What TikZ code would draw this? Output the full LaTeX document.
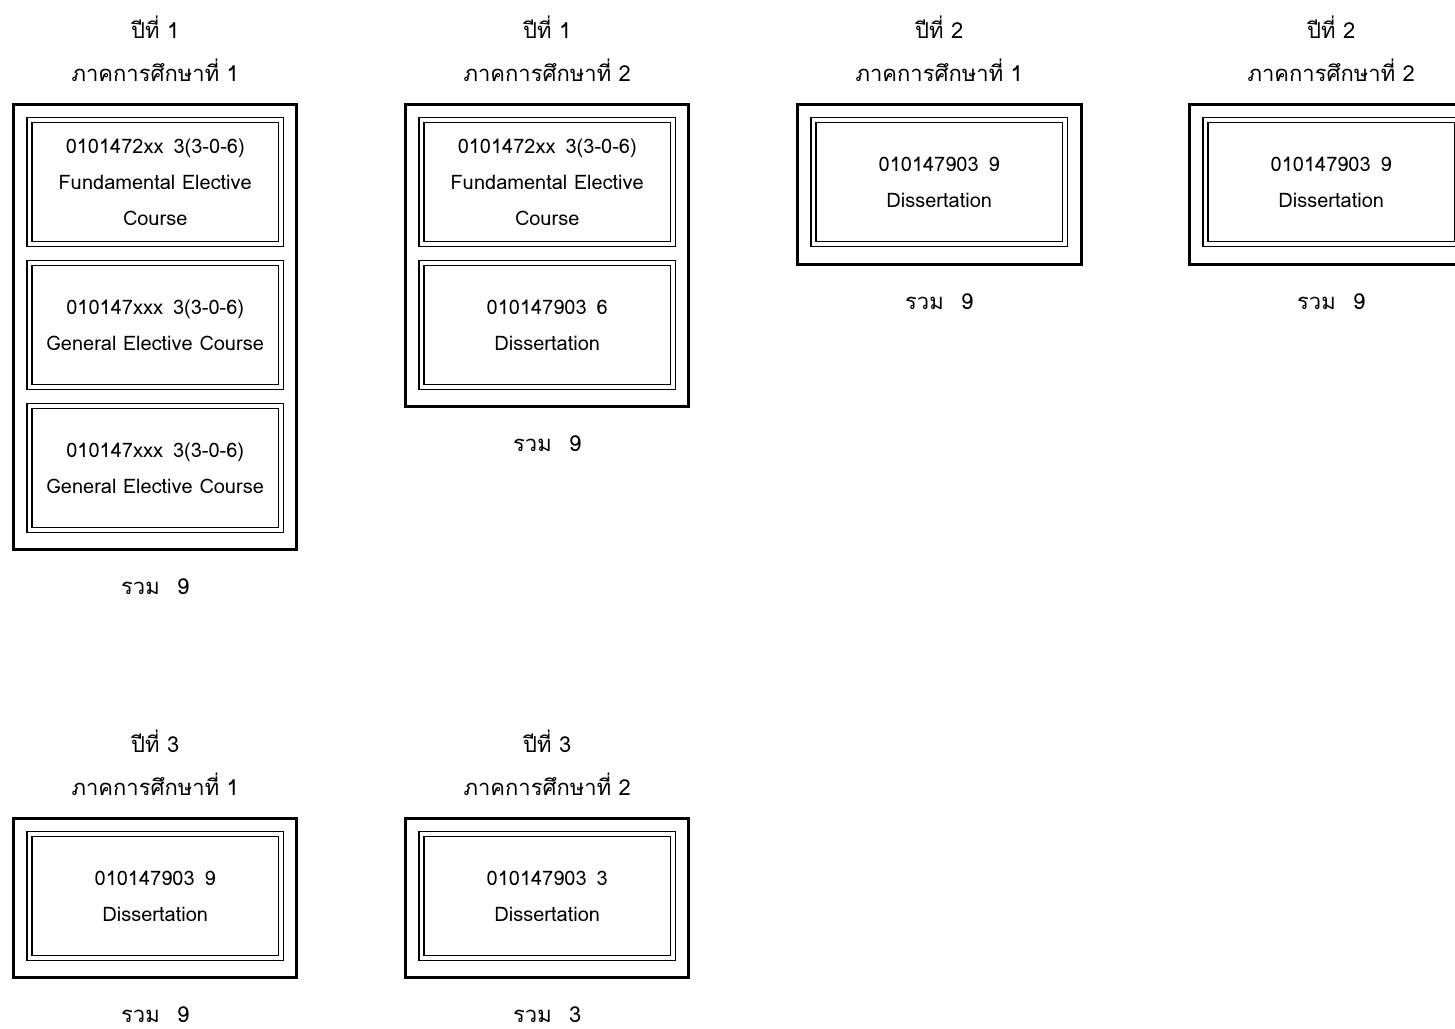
\documentclass[tikz,border=0pt]{standalone}
\usepackage{fontspec}
\setmainfont{Loma}[Script=Thai]
\usetikzlibrary{positioning}

\newcommand{\coursefont}{\fontsize{15}{27}\selectfont}
\newcommand{\headfont}{\fontsize{16.5}{32}\selectfont}

\tikzset{
  semester/.style={draw, line width=2.25pt, outer sep=0pt, inner sep=0pt, minimum width=212.6pt},
  course/.style={draw, double, line width=1.1pt, double distance=2.6pt, outer sep=0pt, inner sep=0pt,
    minimum width=188.6pt, minimum height=93pt, align=center, font=\coursefont},
  heading/.style={align=center, inner sep=0pt, font=\headfont},
  total/.style={inner sep=0pt, font=\headfont}
}

\begin{document}
\begin{tikzpicture}[x=0.75pt, y=-0.75pt]
% Page area
\clip (0,0) rectangle (1455,1028);
% Year 1, semester 1
\node[semester, minimum height=333.75pt] (y1-s1) at (155.25,326.5) {};
\node[heading] (y1-s1-title) at ([yshift=41.5pt]y1-s1.north) {ปีที่ 1\\ภาคการศึกษาที่ 1};
\node[course, below=12pt of y1-s1.north] (y1-s1-a) {0101472xx\enspace 3(3-0-6)\\Fundamental Elective\\Course};
\node[course, below=14.25pt of y1-s1-a] (y1-s1-b) {010147xxx\enspace 3(3-0-6)\\General Elective Course};
\node[course, below=14.25pt of y1-s1-b] (y1-s1-c) {010147xxx\enspace 3(3-0-6)\\General Elective Course};
\node[total] (y1-s1-sum) at ([yshift=-28.5pt]y1-s1.south) {รวม\hspace{13pt}9};
% Year 1, semester 2
\node[semester, minimum height=226.5pt] (y1-s2) at (547.25,255) {};
\node[heading] (y1-s2-title) at ([yshift=41.5pt]y1-s2.north) {ปีที่ 1\\ภาคการศึกษาที่ 2};
\node[course, below=12pt of y1-s2.north] (y1-s2-a) {0101472xx\enspace 3(3-0-6)\\Fundamental Elective\\Course};
\node[course, below=14.25pt of y1-s2-a] (y1-s2-b) {010147903\enspace 6\\Dissertation};
\node[total] (y1-s2-sum) at ([yshift=-28.5pt]y1-s2.south) {รวม\hspace{13pt}9};
% Year 2, semester 1
\node[semester, minimum height=120pt] (y2-s1) at (939.25,184) {};
\node[heading] (y2-s1-title) at ([yshift=41.5pt]y2-s1.north) {ปีที่ 2\\ภาคการศึกษาที่ 1};
\node[course, below=12pt of y2-s1.north] (y2-s1-a) {010147903\enspace 9\\Dissertation};
\node[total] (y2-s1-sum) at ([yshift=-28.5pt]y2-s1.south) {รวม\hspace{13pt}9};
% Year 2, semester 2
\node[semester, minimum height=120pt] (y2-s2) at (1331.25,184) {};
\node[heading] (y2-s2-title) at ([yshift=41.5pt]y2-s2.north) {ปีที่ 2\\ภาคการศึกษาที่ 2};
\node[course, below=12pt of y2-s2.north] (y2-s2-a) {010147903\enspace 9\\Dissertation};
\node[total] (y2-s2-sum) at ([yshift=-28.5pt]y2-s2.south) {รวม\hspace{13pt}9};
% Year 3, semester 1
\node[semester, minimum height=119.25pt] (y3-s1) at (155.25,897.5) {};
\node[heading] (y3-s1-title) at ([yshift=41.5pt]y3-s1.north) {ปีที่ 3\\ภาคการศึกษาที่ 1};
\node[course, below=12pt of y3-s1.north] (y3-s1-a) {010147903\enspace 9\\Dissertation};
\node[total] (y3-s1-sum) at ([yshift=-28.5pt]y3-s1.south) {รวม\hspace{13pt}9};
% Year 3, semester 2
\node[semester, minimum height=119.25pt] (y3-s2) at (547.25,897.5) {};
\node[heading] (y3-s2-title) at ([yshift=41.5pt]y3-s2.north) {ปีที่ 3\\ภาคการศึกษาที่ 2};
\node[course, below=12pt of y3-s2.north] (y3-s2-a) {010147903\enspace 3\\Dissertation};
\node[total] (y3-s2-sum) at ([yshift=-28.5pt]y3-s2.south) {รวม\hspace{13pt}3};
\end{tikzpicture}
\end{document}
